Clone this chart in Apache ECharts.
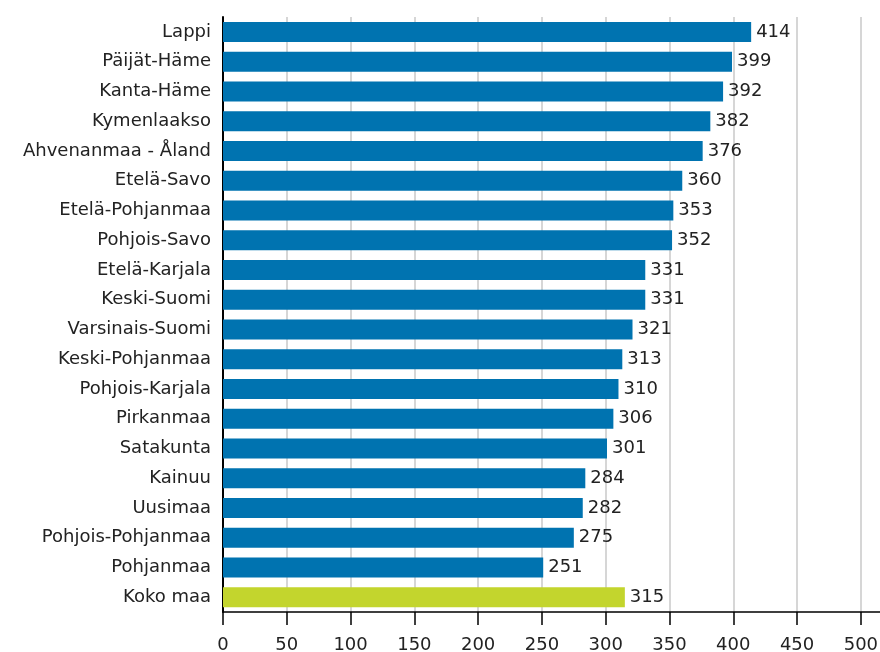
<!DOCTYPE html>
<html>
<head>
<meta charset="utf-8">
<script src="https://cdn.jsdelivr.net/npm/echarts@6/dist/echarts.min.js"></script>
<style>html,body{margin:0;padding:0;background:#fff}#c{width:880px;height:652px}</style>
</head>
<body>
<div id="c"></div>
<script>
const categories = ["Lappi","Päijät-Häme","Kanta-Häme","Kymenlaakso","Ahvenanmaa - Åland","Etelä-Savo","Etelä-Pohjanmaa","Pohjois-Savo","Etelä-Karjala","Keski-Suomi","Varsinais-Suomi","Keski-Pohjanmaa","Pohjois-Karjala","Pirkanmaa","Satakunta","Kainuu","Uusimaa","Pohjois-Pohjanmaa","Pohjanmaa","Koko maa"];
const values = [414,399,392,382,376,360,353,352,331,331,321,313,310,306,301,284,282,275,251,315];
const highlight = ["Koko maa"];
const xTicks = [0,50,100,150,200,250,300,350,400,450,500];

const font = "DejaVu Sans";
const chart = echarts.init(document.getElementById('c'));
chart.setOption({
  animation: false,
  grid: { left: 223, right: 0, top: 17, bottom: 40, containLabel: false, outerBoundsMode: 'none' },
  xAxis: {
    type: 'value', min: 0, max: 515, interval: 50,
    axisLine: { show: true, lineStyle: { color: '#000', width: 1.5 } },
    axisTick: { show: true, length: 13, customValues: xTicks, lineStyle: { color: '#000', width: 1.5 } },
    axisLabel: { customValues: xTicks, margin: 24, fontFamily: font, fontSize: 18, color: '#222' },
    splitLine: { show: true, lineStyle: { color: '#c8c8c8', width: 1.5 } }
  },
  yAxis: {
    type: 'category', data: categories, inverse: true,
    axisLine: { show: true, lineStyle: { color: '#000', width: 2 } },
    axisTick: { show: false },
    axisLabel: { margin: 12, fontFamily: font, fontSize: 18, color: '#222' }
  },
  series: [{
    type: 'bar', barWidth: 20,
    data: values.map((v, i) => ({
      value: v,
      itemStyle: { color: highlight.includes(categories[i]) ? '#c3d52d' : '#0073b0' }
    })),
    label: { show: true, position: 'right', distance: 5, fontFamily: font, fontSize: 18, color: '#222' }
  }]
});
</script>
</body>
</html>
